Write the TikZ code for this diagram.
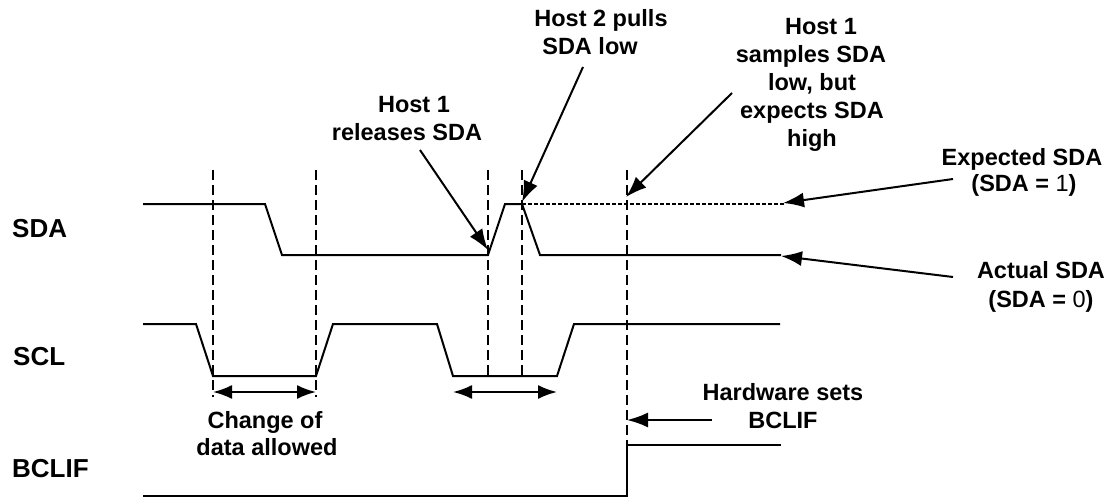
\documentclass[tikz,border=0pt]{standalone}
\usepackage{fontspec}
\setmainfont{Liberation Sans}
\usetikzlibrary{arrows.meta}
\begin{document}
\begin{tikzpicture}[x=1pt,y=-1pt,
  sig/.style={line width=2pt, line join=miter},
  guide/.style={line width=1.1pt, dash pattern=on 10pt off 5pt},
  dotl/.style={line width=1.5pt, dash pattern=on 4pt off 2pt},
  ptr/.style={line width=2pt, -{Latex[length=21pt,width=15pt]}},
  dptr/.style={line width=2pt, {Latex[length=19pt,width=14pt]}-{Latex[length=19pt,width=14pt]}},
  txt/.style={font=\fontsize{23.5}{28}\selectfont\bfseries, inner sep=0pt, anchor=base},
  signame/.style={font=\fontsize{26}{30}\selectfont\bfseries, inner sep=0pt, anchor=base west}]
\useasboundingbox (0,0) rectangle (1114,500);

% signal names
\node[signame] (nSDA) at (12,237) {SDA};
\node[signame] (nSCL) at (13,365) {SCL};
\node[signame] (nBCLIF) at (12,477) {BCLIF};

% guide lines
\draw[guide] (213,170) -- (213,397);
\draw[guide] (316,170) -- (316,397);
\draw[guide] (488,170) -- (488,376);
\draw[guide] (522,170) -- (522,376);
\draw[guide] (627,170) -- (627,445);

% SDA
\draw[sig] (143,204) -- (265,204) -- (282,255) -- (488,255) -- (505,204) -- (522,204) -- (540,255) -- (781,255);
\draw[dotl] (522,204) -- (785,204);
% SCL
\draw[sig] (143,324) -- (196,324) -- (213,376) -- (316,376) -- (333,324) -- (437,324) -- (453,376) -- (557,376) -- (574,324) -- (780,324);
% BCLIF
\draw[sig] (143,496) -- (627,496) -- (627,445) -- (781,445);

% change windows
\coordinate (w1a) at (213,392); \coordinate (w1b) at (316,392);
\coordinate (w2a) at (453,392); \coordinate (w2b) at (557,392);
\draw[dptr] (w1a) -- (w1b);
\draw[dptr] (w2a) -- (w2b);

% labels
\node[txt] (h1a) at (414,113) {Host 1};
\node[txt] (h1b) at (407,141) {releases SDA};
\node[txt] (h2a) at (601,27) {Host 2 pulls};
\node[txt] (h2b) at (590,55) {SDA low};
\node[txt] (s1) at (821,35) {Host 1};
\node[txt] (s2) at (811,63) {samples SDA};
\node[txt] (s3) at (812,91) {low, but};
\node[txt] (s4) at (812,119) {expects SDA};
\node[txt] (s5) at (812,147) {high};
\node[txt] (e1) at (1022,165) {Expected SDA};
\node[txt] (e2) at (1024,192) {(SDA = {\mdseries 1})};
\node[txt] (a1) at (1041,278) {Actual SDA};
\node[txt] (a2) at (1041,307) {(SDA = {\mdseries 0})};
\node[txt] (c1) at (265,428) {Change of};
\node[txt] (c2) at (267,455) {data allowed};
\node[txt] (hw1) at (783,400) {Hardware sets};
\node[txt] (hw2) at (783,428) {BCLIF};

% pointers
\coordinate (p1s) at (420,150); \coordinate (p1e) at (488,250);
\coordinate (p2s) at (583,67);  \coordinate (p2e) at (522,202);
\coordinate (p3s) at (732,93);  \coordinate (p3e) at (626,197);
\coordinate (p4s) at (953,179); \coordinate (p4e) at (783,203);
\coordinate (p5s) at (953,277); \coordinate (p5e) at (781,256);
\coordinate (p6s) at (712,420); \coordinate (p6e) at (627,420);
\draw[ptr] (p1s) -- (p1e);
\draw[ptr] (p2s) -- (p2e);
\draw[ptr] (p3s) -- (p3e);
\draw[ptr] (p4s) -- (p4e);
\draw[ptr] (p5s) -- (p5e);
\draw[ptr] (p6s) -- (p6e);
\end{tikzpicture}
\end{document}
